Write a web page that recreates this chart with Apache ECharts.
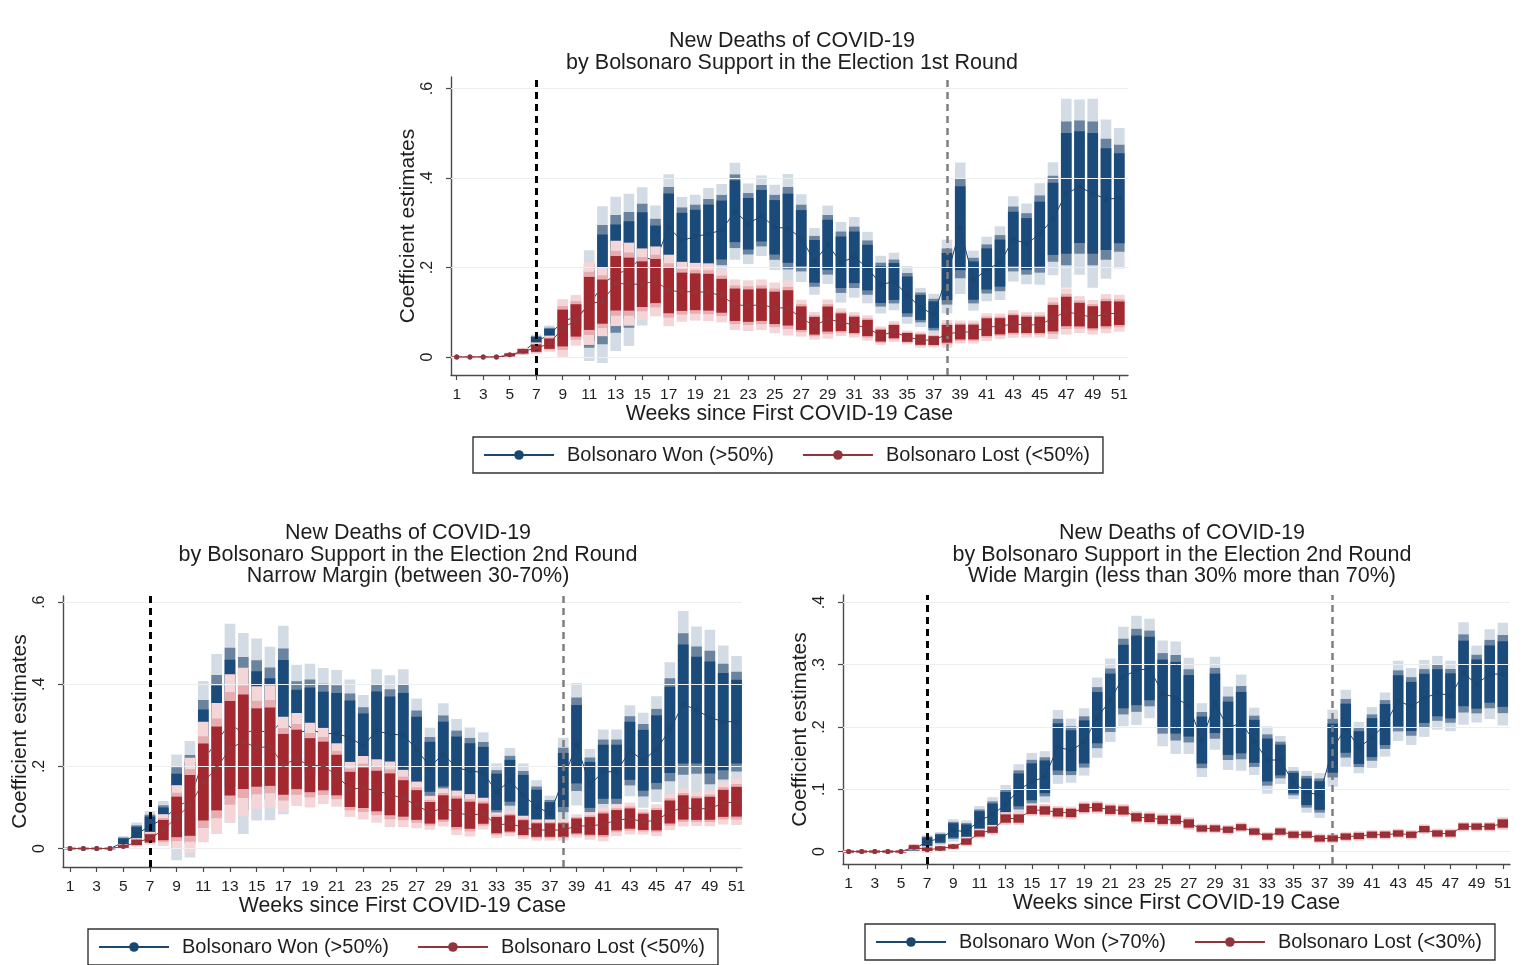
<!DOCTYPE html>
<html>
<head>
<meta charset="utf-8">
<script src="https://cdn.jsdelivr.net/npm/echarts@6.0.0/dist/echarts.min.js"></script>
<style>
html,body{margin:0;padding:0;background:#fff;}
#chart{width:1522px;height:965px;}
</style>
</head>
<body>
<div id="chart"></div>
<script>
// ---------- DATA ----------
const weeks = [1,2,3,4,5,6,7,8,9,10,11,12,13,14,15,16,17,18,19,20,21,22,23,24,25,26,27,28,29,30,31,32,33,34,35,36,37,38,39,40,41,42,43,44,45,46,47,48,49,50,51];
const xTickLabels = [1,3,5,7,9,11,13,15,17,19,21,23,25,27,29,31,33,35,37,39,41,43,45,47,49,51];
const yTicksA = [0,0.2,0.4,0.6];
const yTicksC = [0,0.1,0.2,0.3,0.4];
const eventWeeks = [7,38];

// Panel A: 1st round
const r1WonEst = [0,0,0,0,0.003,0.012,0.035,0.05,0.08,0.09,0.115,0.162,0.186,0.195,0.225,0.215,0.29,0.26,0.27,0.275,0.284,0.326,0.298,0.316,0.29,0.288,0.266,0.214,0.251,0.212,0.223,0.2,0.162,0.169,0.139,0.111,0.095,0.18,0.288,0.171,0.197,0.21,0.264,0.253,0.275,0.309,0.366,0.38,0.366,0.353,0.355];
const r1WonSE  = [0.001,0.001,0.001,0.001,0.002,0.003,0.006,0.008,0.012,0.016,0.048,0.068,0.067,0.066,0.06,0.048,0.046,0.038,0.036,0.04,0.04,0.042,0.035,0.035,0.037,0.047,0.038,0.029,0.034,0.035,0.035,0.031,0.025,0.025,0.025,0.017,0.018,0.032,0.057,0.026,0.028,0.032,0.037,0.035,0.044,0.049,0.082,0.076,0.082,0.069,0.061];
const r1LostEst = [0,0,0,0,0.005,0.013,0.02,0.03,0.065,0.082,0.12,0.124,0.165,0.163,0.163,0.17,0.149,0.146,0.146,0.145,0.137,0.117,0.115,0.117,0.11,0.11,0.087,0.07,0.085,0.078,0.072,0.065,0.048,0.057,0.044,0.039,0.037,0.052,0.056,0.056,0.067,0.069,0.074,0.072,0.072,0.087,0.102,0.095,0.089,0.097,0.098];
const r1LostSE  = [0.001,0.001,0.001,0.001,0.002,0.003,0.005,0.007,0.025,0.022,0.036,0.03,0.037,0.036,0.031,0.03,0.031,0.026,0.025,0.025,0.023,0.022,0.022,0.022,0.022,0.024,0.016,0.012,0.017,0.012,0.011,0.011,0.008,0.009,0.006,0.007,0.006,0.012,0.01,0.01,0.012,0.011,0.012,0.011,0.011,0.018,0.02,0.016,0.015,0.017,0.016];

// Panel B: 2nd round, narrow margin
const nWonEst = [0,0,0,0,0.015,0.035,0.055,0.072,0.1,0.12,0.215,0.26,0.305,0.28,0.29,0.28,0.313,0.28,0.29,0.28,0.28,0.27,0.25,0.287,0.278,0.277,0.242,0.199,0.23,0.197,0.189,0.185,0.138,0.165,0.13,0.102,0.085,0.167,0.254,0.155,0.187,0.187,0.238,0.215,0.242,0.289,0.352,0.337,0.319,0.309,0.309];
const nWonSE  = [0.001,0.001,0.001,0.001,0.006,0.011,0.014,0.017,0.05,0.055,0.075,0.083,0.094,0.095,0.086,0.082,0.089,0.065,0.062,0.062,0.06,0.055,0.048,0.058,0.056,0.062,0.048,0.037,0.048,0.046,0.041,0.038,0.027,0.031,0.03,0.025,0.017,0.04,0.058,0.034,0.04,0.04,0.043,0.045,0.05,0.064,0.088,0.079,0.083,0.072,0.062];
const nLostEst = [0,0,0,0,0.005,0.015,0.025,0.045,0.077,0.105,0.162,0.195,0.244,0.26,0.246,0.248,0.205,0.217,0.203,0.201,0.179,0.144,0.148,0.14,0.132,0.122,0.106,0.087,0.1,0.087,0.081,0.085,0.057,0.061,0.051,0.045,0.045,0.045,0.055,0.055,0.059,0.069,0.073,0.065,0.069,0.089,0.1,0.096,0.098,0.11,0.114];
const nLostSE  = [0.001,0.001,0.001,0.001,0.002,0.004,0.006,0.015,0.03,0.045,0.057,0.062,0.07,0.07,0.058,0.058,0.045,0.044,0.04,0.036,0.03,0.026,0.03,0.03,0.031,0.027,0.022,0.016,0.018,0.021,0.02,0.015,0.012,0.012,0.011,0.01,0.01,0.01,0.011,0.013,0.016,0.015,0.015,0.012,0.015,0.017,0.018,0.016,0.017,0.02,0.022];

// Panel C: 2nd round, wide margin
const wWonEst = [0,0,0,0,0,0.004,0.016,0.021,0.034,0.032,0.05,0.059,0.076,0.099,0.112,0.12,0.168,0.162,0.176,0.215,0.243,0.281,0.291,0.294,0.254,0.247,0.234,0.179,0.238,0.198,0.207,0.177,0.147,0.147,0.11,0.096,0.09,0.166,0.198,0.167,0.183,0.204,0.242,0.233,0.246,0.255,0.25,0.286,0.269,0.285,0.285];
const wWonSE  = [0.001,0.001,0.001,0.001,0.001,0.002,0.004,0.004,0.007,0.007,0.009,0.011,0.012,0.016,0.018,0.016,0.023,0.02,0.021,0.025,0.026,0.031,0.034,0.031,0.033,0.035,0.03,0.023,0.029,0.026,0.03,0.021,0.021,0.015,0.01,0.013,0.014,0.024,0.024,0.016,0.019,0.02,0.025,0.024,0.024,0.023,0.022,0.032,0.024,0.028,0.032];
const wLostEst = [0,0,0,0,0,0.007,0.003,0.005,0.008,0.016,0.029,0.035,0.053,0.053,0.067,0.066,0.063,0.062,0.07,0.071,0.067,0.066,0.055,0.054,0.051,0.051,0.045,0.037,0.037,0.035,0.039,0.032,0.024,0.032,0.027,0.027,0.021,0.021,0.024,0.025,0.027,0.027,0.029,0.027,0.036,0.029,0.029,0.04,0.04,0.04,0.045];
const wLostSE  = [0.001,0.001,0.001,0.001,0.001,0.002,0.002,0.002,0.002,0.003,0.003,0.003,0.004,0.004,0.004,0.004,0.004,0.004,0.004,0.004,0.004,0.004,0.004,0.004,0.004,0.004,0.004,0.003,0.003,0.003,0.003,0.003,0.003,0.003,0.003,0.003,0.003,0.003,0.003,0.003,0.003,0.003,0.003,0.003,0.003,0.003,0.003,0.003,0.003,0.003,0.004];

// ---------- STYLE ----------
const FONT = "'Liberation Sans', Arial, sans-serif";
const TICKFONT = "'Liberation Sans Narrow', 'Liberation Sans', Arial, sans-serif";
const TXT = '#1e1e1e';
const AXIS = '#4a4a4a';
const BLUE = {line:'#1a476f', c99:'#d3dbe4', c95:'#6a84a0', c90:'#1b4b7b'};
const RED  = {line:'#90353b', c99:'#f4d6d8', c95:'#e6acaf', c90:'#a3282f'};
const Z = [2.576, 1.96, 1.645];

const panels = [
  {grid:{left:451, top:77, width:677, height:298}, xmin:0.57, xmax:51.66, ymin:-0.04, ymax:0.626, yTicks:yTicksA,
   title:'New Deaths of COVID-19\nby Bolsonaro Support in the Election 1st Round', titleX:787, titleTop:25.5,
   nameGapY:32, legend:{left:473, top:437}, won:'Bolsonaro Won (>50%)', lost:'Bolsonaro Lost (<50%)',
   wonEst:r1WonEst, wonSE:r1WonSE, lostEst:r1LostEst, lostSE:r1LostSE},
  {grid:{left:63, top:596, width:679, height:271}, xmin:0.475, xmax:51.41, ymin:-0.045, ymax:0.615, yTicks:yTicksA,
   title:'New Deaths of COVID-19\nby Bolsonaro Support in the Election 2nd Round\nNarrow Margin (between 30-70%)', titleX:403, titleTop:517.5,
   nameGapY:30, legend:{left:88, top:929}, won:'Bolsonaro Won (>50%)', lost:'Bolsonaro Lost (<50%)',
   wonEst:nWonEst, wonSE:nWonSE, lostEst:nLostEst, lostSE:nLostSE},
  {grid:{left:843, top:595, width:667, height:269}, xmin:0.57, xmax:51.55, ymin:-0.02, ymax:0.412, yTicks:yTicksC,
   title:'New Deaths of COVID-19\nby Bolsonaro Support in the Election 2nd Round\nWide Margin (less than 30% more than 70%)', titleX:1177, titleTop:517.5,
   nameGapY:32, legend:{left:865, top:924}, won:'Bolsonaro Won (>70%)', lost:'Bolsonaro Lost (<30%)',
   wonEst:wWonEst, wonSE:wWonSE, lostEst:wLostEst, lostSE:wLostSE}
];

function yFmt(v){
  if (Math.abs(v) < 1e-9) return '0';
  return String(+v.toFixed(2)).replace(/^0\./, '.');
}

function bandSeries(gi, est, se, col, z){
  return {
    type:'custom', xAxisIndex:gi, yAxisIndex:gi, z:z, silent:true,
    data: weeks.map((w,i)=>[w, est[i], se[i]]),
    encode:{x:0, y:1},
    renderItem:function(params, api){
      const x = api.value(0), m = api.value(1), s = api.value(2);
      const a = api.coord([x-0.4, m]), b = api.coord([x+0.4, m]);
      const w = b[0]-a[0];
      const cols = [col.c99, col.c95, col.c90];
      const children = Z.map((zz, k)=>{
        const top = api.coord([x, m+zz*s])[1];
        const bot = api.coord([x, m-zz*s])[1];
        return {type:'rect', shape:{x:a[0], y:top, width:w, height:Math.max(bot-top, 0.8)}, style:{fill:cols[k]}};
      });
      return {type:'group', children:children};
    }
  };
}

const option = {
  animation:false,
  backgroundColor:'#fff',
  textStyle:{fontFamily:FONT, color:TXT},
  title:[], grid:[], xAxis:[], yAxis:[], legend:[], series:[]
};

panels.forEach((p, gi)=>{
  option.title.push({text:p.title, left:p.titleX, top:p.titleTop, textAlign:'center',
    textStyle:{fontFamily:FONT, fontSize:21.5, fontWeight:'normal', color:TXT, lineHeight:21.5}});
  option.grid.push(Object.assign({containLabel:false}, p.grid));
  option.xAxis.push({type:'value', gridIndex:gi, min:p.xmin, max:p.xmax,
    name:'Weeks since First COVID-19 Case', nameLocation:'middle', nameGap:29,
    nameTextStyle:{fontFamily:FONT, fontSize:21.3, color:TXT},
    axisLine:{show:true, onZero:false, lineStyle:{color:AXIS, width:1.4}},
    axisTick:{show:true, customValues:xTickLabels, length:5, lineStyle:{color:AXIS, width:1.2}},
    axisLabel:{customValues:xTickLabels, fontFamily:TICKFONT, fontSize:15.5, color:TXT, margin:12},
    splitLine:{show:false}});
  option.yAxis.push({type:'value', gridIndex:gi, min:p.ymin, max:p.ymax,
    name:'Coefficient estimates', nameLocation:'middle', nameGap:p.nameGapY, nameRotate:90,
    nameTextStyle:{fontFamily:FONT, fontSize:21, color:TXT},
    axisLine:{show:true, onZero:false, lineStyle:{color:AXIS, width:1.4}},
    axisTick:{show:true, customValues:p.yTicks, length:5, lineStyle:{color:AXIS, width:1.2}},
    axisLabel:{customValues:p.yTicks, rotate:90, formatter:yFmt, fontFamily:TICKFONT, fontSize:16, color:TXT, margin:15},
    splitLine:{show:false}});
  option.legend.push({left:p.legend.left, top:p.legend.top, orient:'horizontal',
    data:[p.won, p.lost], itemWidth:70, itemHeight:12, itemGap:28,
    padding:[7,13,7,10], borderColor:'#333', borderWidth:1.4, backgroundColor:'#fff',
    selectedMode:false,
    textStyle:{fontFamily:FONT, fontSize:20, color:TXT, padding:[0,0,0,8], lineHeight:22}});
  // faint gridlines
  option.series.push({type:'line', xAxisIndex:gi, yAxisIndex:gi, data:[], z:0, silent:true,
    markLine:{silent:true, symbol:'none', label:{show:false}, animation:false,
      lineStyle:{color:'#eceff2', width:1, type:'solid'},
      data:p.yTicks.map(v=>({yAxis:v}))}});
  option.series.push(bandSeries(gi, p.wonEst, p.wonSE, BLUE, 2));
  option.series.push({type:'line', name:p.won, xAxisIndex:gi, yAxisIndex:gi, z:3, silent:true,
    data:weeks.map((w,i)=>[w, p.wonEst[i]]), symbol:'circle', symbolSize:5,
    itemStyle:{color:BLUE.line}, lineStyle:{color:BLUE.line, width:1}});
  option.series.push(bandSeries(gi, p.lostEst, p.lostSE, RED, 4));
  option.series.push({type:'line', name:p.lost, xAxisIndex:gi, yAxisIndex:gi, z:5, silent:true,
    data:weeks.map((w,i)=>[w, p.lostEst[i]]), symbol:'circle', symbolSize:5,
    itemStyle:{color:RED.line}, lineStyle:{color:RED.line, width:1},
    markLine:{silent:true, symbol:'none', label:{show:false}, animation:false,
      data:[
        {xAxis:eventWeeks[0], lineStyle:{color:'#000', width:3, type:[7,5]}},
        {xAxis:eventWeeks[1], lineStyle:{color:'#7f7f7f', width:2.5, type:[7,5]}}
      ]}});
});

const chart = echarts.init(document.getElementById('chart'), null, {renderer:'canvas'});
chart.setOption(option);
</script>
</body>
</html>
